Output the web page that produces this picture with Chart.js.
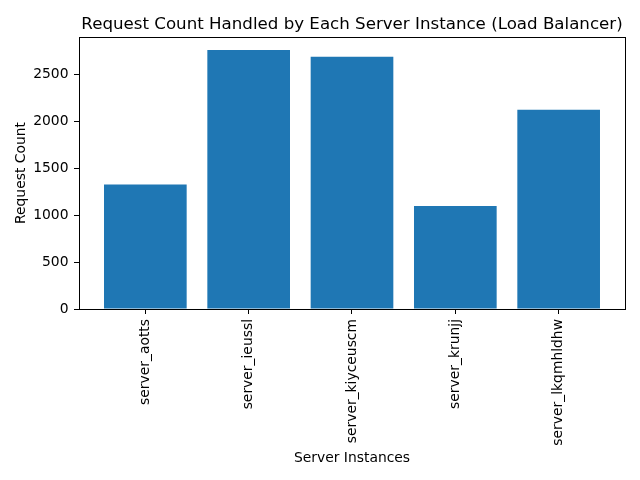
<!DOCTYPE html>
<html>
<head>
<meta charset="utf-8">
<script src="https://cdn.jsdelivr.net/npm/chart.js@4/dist/chart.umd.min.js"></script>
<style>
html, body { margin: 0; padding: 0; background: #fff; }
canvas { display: block; }
</style>
</head>
<body>
<canvas id="c" width="640" height="480"></canvas>
<script>
const categories = ["server_aotts", "server_ieussl", "server_kiyceuscm", "server_krunjj", "server_lkqmhldhw"];
const requestCounts = [1328, 2764, 2690, 1100, 2127];
const yTicks = [0, 500, 1000, 1500, 2000, 2500];

const FONT = "'DejaVu Sans', sans-serif";
Chart.defaults.font.family = FONT;
Chart.defaults.color = '#000';

const spines = {
  id: 'spines',
  afterDatasetsDraw(chart) {
    const a = chart.chartArea, ctx = chart.ctx;
    ctx.save();
    ctx.strokeStyle = '#000';
    ctx.lineWidth = 1;
    ctx.strokeRect(Math.round(a.left) + 0.5, Math.round(a.top) + 0.5,
                   Math.round(a.right) - Math.round(a.left), Math.round(a.bottom) - Math.round(a.top));
    ctx.restore();
  }
};

new Chart(document.getElementById('c'), {
  type: 'bar',
  data: {
    datasets: [{
      data: categories.map((c, i) => ({ x: i, y: requestCounts[i] })),
      backgroundColor: '#1f77b4',
      borderWidth: 0,
      barPercentage: 0.8,
      categoryPercentage: 1.0
    }]
  },
  options: {
    responsive: false,
    animation: false,
    layout: { padding: { left: 0, right: 15, top: 0, bottom: 0 } },
    plugins: {
      legend: { display: false },
      tooltip: { enabled: false },
      title: {
        display: true,
        fullSize: false,
        text: 'Request Count Handled by Each Server Instance (Load Balancer)',
        font: { size: 16.67, weight: 'normal', family: FONT },
        color: '#000',
        padding: { top: 14.3, bottom: 2.7 }
      }
    },
    scales: {
      x: {
        type: 'linear',
        min: -0.642,
        max: 4.642,
        offset: false,
        afterBuildTicks: s => { s.ticks = categories.map((c, i) => ({ value: i })); },
        afterFit: s => { s.height = 171; },
        ticks: {
          autoSkip: false,
          minRotation: 90,
          maxRotation: 90,
          padding: 5,
          font: { size: 13.89, family: FONT },
          color: '#000',
          callback: v => categories[v]
        },
        grid: { display: true, offset: false, drawOnChartArea: false, drawTicks: true, tickLength: 5, tickColor: '#000', tickWidth: 1 },
        border: { display: false },
        title: {
          display: true,
          text: 'Server Instances',
          font: { size: 13.89, family: FONT },
          color: '#000',
          padding: { top: 0, bottom: 13.1 }
        }
      },
      y: {
        min: 0,
        max: 2902,
        afterBuildTicks: s => { s.ticks = yTicks.map(v => ({ value: v })); },
        afterFit: s => { s.width = 79; },
        ticks: {
          padding: 5.5,
          font: { size: 13.89, family: FONT },
          color: '#000',
          callback: v => String(v)
        },
        grid: { display: true, drawOnChartArea: false, drawTicks: true, tickLength: 5, tickColor: '#000', tickWidth: 1 },
        border: { display: false },
        title: {
          display: true,
          text: 'Request Count',
          font: { size: 13.89, family: FONT },
          color: '#000',
          padding: { top: 12.7, bottom: 0 }
        }
      }
    }
  },
  plugins: [spines]
});
</script>
</body>
</html>
